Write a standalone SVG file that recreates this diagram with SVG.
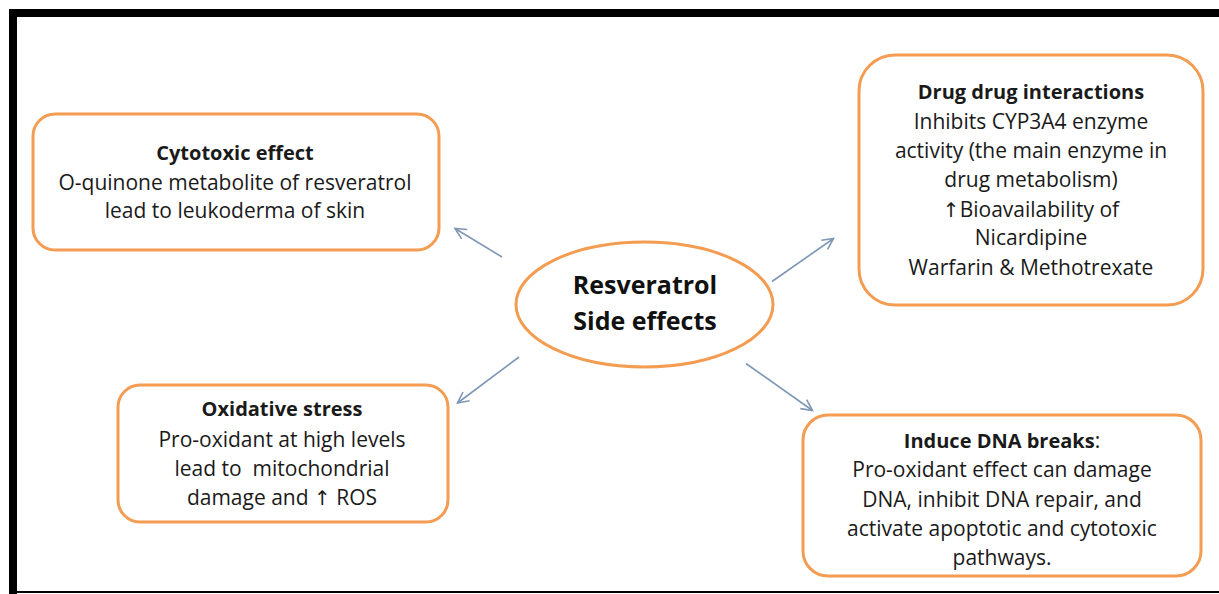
<svg xmlns="http://www.w3.org/2000/svg" width="1219" height="594" viewBox="0 0 1219 594">
<defs>
<style>
.box{fill:#ffffff;stroke:#F39C52;stroke-width:3}
.t{font-family:"Open Sans","Liberation Sans",sans-serif;font-size:21px;fill:#1a1a1a;text-anchor:middle}
.b{font-weight:bold;font-size:20px}
.c{font-family:"Open Sans","Liberation Sans",sans-serif;font-size:25px;font-weight:bold;fill:#111;text-anchor:middle}
.up{font-family:"DejaVu Sans",sans-serif;font-size:20px}
.arr{stroke:#7D97B5;stroke-width:1.6;fill:none;marker-end:url(#ah)}
</style>
<marker id="ah" markerWidth="14" markerHeight="14" refX="12" refY="7" orient="auto" markerUnits="userSpaceOnUse">
<path d="M1,1.5 L12,7 L1,12.5" fill="none" stroke="#7D97B5" stroke-width="1.6"/>
</marker>
</defs>
<rect width="1219" height="594" fill="#ffffff"/>
<g id="frame" fill="#000">
<rect x="9" y="9" width="1210" height="8"/>
<rect x="9" y="9" width="8" height="585"/>
<rect x="9" y="591" width="1210" height="2"/>
</g>
<g id="connectors">
<line class="arr" x1="502" y1="257" x2="455" y2="228.5"/>
<line class="arr" x1="772" y1="281.5" x2="833.5" y2="238.5"/>
<line class="arr" x1="519" y1="357" x2="457.5" y2="403"/>
<line class="arr" x1="746" y1="363.5" x2="812.5" y2="410.5"/>
</g>
<g id="center">
<ellipse class="box" cx="644.5" cy="304.5" rx="128.5" ry="62.5"/>
<text class="c" x="645" y="294">Resveratrol</text>
<text class="c" x="645" y="330">Side effects</text>
</g>
<g id="cytotoxic">
<rect class="box" x="33" y="114" width="406" height="136" rx="22"/>
<text class="t b" x="235" y="160">Cytotoxic effect</text>
<text class="t" x="235" y="190">O-quinone metabolite of resveratrol</text>
<text class="t" x="235" y="218">lead to leukoderma of skin</text>
</g>
<g id="drug">
<rect class="box" x="859" y="55" width="344" height="250" rx="36"/>
<text class="t b" x="1031" y="99">Drug drug interactions</text>
<text class="t" x="1031" y="129">Inhibits CYP3A4 enzyme</text>
<text class="t" x="1031" y="158">activity (the main enzyme in</text>
<text class="t" x="1031" y="187">drug metabolism)</text>
<text class="t" x="1031" y="217"><tspan class="up">↑</tspan>Bioavailability of</text>
<text class="t" x="1031" y="245">Nicardipine</text>
<text class="t" x="1031" y="275">Warfarin &amp; Methotrexate</text>
</g>
<g id="oxidative">
<rect class="box" x="118" y="385" width="330" height="137" rx="22"/>
<text class="t b" x="282" y="416">Oxidative stress</text>
<text class="t" x="282" y="447">Pro-oxidant at high levels</text>
<text class="t" x="282" y="476" xml:space="preserve">lead to  mitochondrial</text>
<text class="t" x="282" y="505">damage and <tspan class="up">↑</tspan> ROS</text>
</g>
<g id="dna">
<rect class="box" x="803" y="415" width="398" height="161" rx="25"/>
<text class="t" x="1002" y="448"><tspan font-weight="bold" font-size="20">Induce DNA breaks</tspan>:</text>
<text class="t" x="1002" y="477">Pro-oxidant effect can damage</text>
<text class="t" x="1002" y="507">DNA, inhibit DNA repair, and</text>
<text class="t" x="1002" y="536">activate apoptotic and cytotoxic</text>
<text class="t" x="1002" y="565">pathways.</text>
</g>
</svg>
